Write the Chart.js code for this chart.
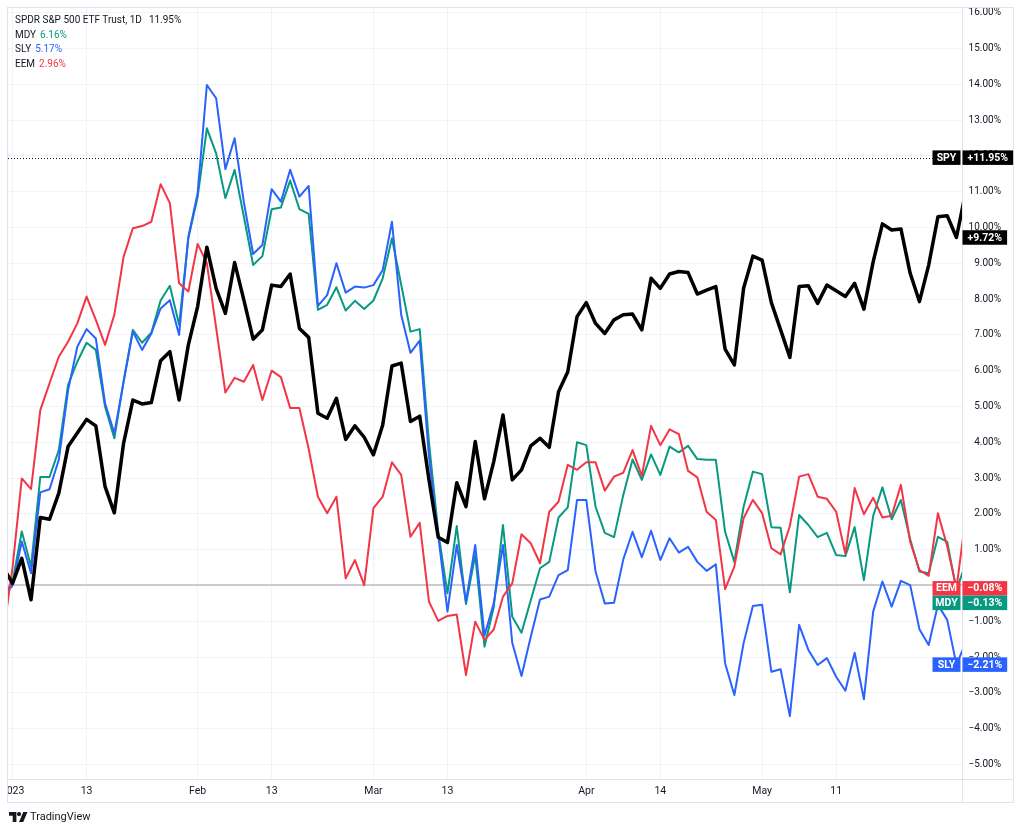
<!DOCTYPE html>
<html>
<head>
<meta charset="utf-8">
<title>SPY vs MDY, SLY, EEM</title>
<script src="https://cdn.jsdelivr.net/npm/chart.js@4.4.0/dist/chart.umd.min.js"></script>
<style>
  html, body { margin: 0; padding: 0; background: #fff; }
  #wrap { position: relative; width: 1024px; height: 833px; overflow: hidden; }
  #chart { position: absolute; left: 0; top: 0; }
  #legend { position: absolute; left: 15px; top: 13px; font: 10px Roboto, sans-serif; color: #131722; line-height: 14.6px; }
  #legend .val { margin-left: 4px; }
  #legend .first .val { margin-left: 7px; }
  #logo { position: absolute; left: 9px; top: 810px; font: 11px Roboto, sans-serif; color: #131722; display: flex; align-items: center; }
  #logo svg { margin-right: 2px; }
</style>
</head>
<body>
<div id="wrap">
  <canvas id="chart" width="1024" height="833"></canvas>
  <div id="legend"></div>
  <div id="logo">
    <svg width="19" height="10" viewBox="0 0 36 19"><path d="M14 19H7V7H0V0h14v19zM27 19h-8L27 0h8L27 19z" fill="#131722"/><circle cx="19" cy="4" r="4" fill="#131722"/></svg>
    <span>TradingView</span>
  </div>
</div>
<script>
// daily bars, first entry is the bar before Jan 3 2023 (index -1)
const firstBar = -1;
const lastBar = 102;

// % change, SPDR S&P 500 ETF Trust
const spy = [
  0.5, 0.06, 0.76, -0.40, 1.90, 1.85, 2.58, 3.88, 4.26, 4.64,
  4.46, 2.76, 2.03, 3.97, 5.18, 5.07, 5.11, 6.28, 6.53, 5.18,
  6.72, 7.79, 9.45, 8.30, 7.60, 9.02, 7.97, 6.88, 7.14, 8.39,
  8.35, 8.70, 7.18, 6.93, 4.81, 4.67, 5.23, 4.08, 4.46, 4.14,
  3.65, 4.48, 6.13, 6.21, 4.58, 4.73, 2.95, 1.35, 1.20, 2.87,
  2.20, 4.02, 2.42, 3.46, 4.76, 2.95, 3.23, 3.90, 4.11, 3.86,
  5.41, 5.97, 7.51, 7.90, 7.32, 7.04, 7.42, 7.56, 7.58, 7.14,
  8.58, 8.30, 8.70, 8.77, 8.74, 8.14, 8.25, 8.35, 6.60, 6.16,
  8.30, 9.20, 9.09, 7.90, 7.14, 6.37, 8.35, 8.37, 7.88, 8.39,
  8.23, 8.07, 8.44, 7.72, 9.04, 10.10, 9.93, 9.96, 8.72, 7.93,
  8.95, 10.30, 10.33, 9.72, 11.0
];

const mdy = [
  -0.3, 0.1, 1.51, 0.53, 3.03, 3.03, 3.78, 5.60, 6.25, 6.78,
  6.58, 4.99, 4.11, 5.70, 7.14, 6.78, 7.06, 7.96, 8.37, 7.28,
  9.70, 10.85, 12.77, 12.07, 10.82, 11.61, 10.3, 8.95, 9.20, 10.51,
  10.56, 11.31, 10.51, 10.38, 7.70, 7.84, 8.33, 7.68, 7.95, 7.72,
  7.96, 8.58, 9.70, 8.40, 7.09, 7.16, 4.0, 1.5, -0.22, 1.66,
  -0.52, 0.85, -1.71, -0.6, 1.69, -0.87, -1.32, -0.41, 0.48, 0.66,
  1.90, 2.18, 4.00, 3.92, 2.20, 1.47, 1.35, 2.53, 3.52, 2.95,
  3.66, 3.09, 3.88, 3.72, 3.90, 3.53, 3.51, 3.51, 1.50, 0.66,
  2.20, 3.18, 3.11, 1.63, 1.61, -0.19, 1.97, 1.69, 1.35, 1.47,
  0.85, 0.82, 1.63, 0.15, 1.94, 2.74, 1.85, 2.39, 1.29, 0.39,
  0.34, 1.36, 1.22, -0.13, 0.62
];

const sly = [
  -0.3, 0.0, 1.23, 0.34, 2.60, 2.69, 3.51, 5.45, 6.67, 7.16,
  6.90, 5.09, 4.25, 5.68, 7.09, 6.58, 7.04, 7.74, 7.97, 7.00,
  9.74, 10.95, 13.98, 13.61, 11.63, 12.49, 10.7, 9.26, 9.51, 11.07,
  10.72, 11.61, 10.86, 11.16, 7.81, 8.11, 9.00, 8.18, 8.35, 8.32,
  8.39, 8.81, 10.16, 7.56, 6.50, 6.84, 3.6, 1.4, -0.73, 1.13,
  -0.45, 1.13, -1.4, -0.5, 1.13, -1.60, -2.53, -1.43, -0.39, -0.31,
  0.29, 0.43, 2.39, 2.39, 0.39, -0.50, -0.48, 0.73, 1.50, 0.79,
  1.53, 0.71, 1.32, 0.92, 1.08, 0.66, 0.41, 0.59, -2.17, -3.06,
  -1.61, -0.57, -0.54, -2.41, -2.34, -3.65, -1.10, -1.80, -2.22, -2.03,
  -2.55, -2.94, -1.88, -3.18, -0.73, 0.11, -0.59, 0.13, 0.01, -1.22,
  -1.66, -0.54, -0.96, -2.21, -1.6
];

const eem = [
  -1.35, 0.5, 2.99, 2.69, 4.90, 5.65, 6.39, 6.81, 7.32, 8.07,
  7.42, 6.72, 7.56, 9.18, 9.98, 10.04, 10.16, 11.21, 10.68, 8.44,
  8.21, 9.54, 9.00, 7.20, 5.39, 5.80, 5.69, 6.16, 5.18, 6.00,
  5.82, 4.96, 4.96, 3.82, 2.48, 2.02, 2.48, 0.20, 0.71, 0.01,
  2.16, 2.48, 3.44, 3.09, 1.36, 1.75, -0.45, -0.99, -0.85, -0.81,
  -2.50, -1.01, -1.52, -1.23, -0.31, 0.06, 1.43, 1.18, 0.62, 2.06,
  2.34, 3.37, 3.23, 3.44, 3.44, 2.65, 3.04, 3.15, 3.78, 3.06,
  4.46, 3.92, 4.36, 4.23, 3.20, 3.02, 2.06, 1.83, -0.10, 0.53,
  1.88, 2.39, 2.02, 1.04, 0.87, 1.66, 3.04, 3.11, 2.48, 2.42,
  2.06, 0.88, 2.72, 1.99, 2.45, 1.90, 1.95, 2.81, 1.22, 0.43,
  0.27, 2.02, 1.10, -0.08, 1.9
];

// x axis: bar index -> label
const xTickBars = [0, 8, 20, 28, 39, 47, 62, 70, 81, 89];
const xTickLabels = ['2023', '13', 'Feb', '13', 'Mar', '13', 'Apr', '14', 'May', '11'];
const yTicks = [16, 15, 14, 13, 12, 11, 10, 9, 8, 7, 6, 5, 4, 3, 2, 1, 0, -1, -2, -3, -4, -5];

// legend
const legendNames = ['SPDR S&P 500 ETF Trust, 1D', 'MDY', 'SLY', 'EEM'];
const legendValues = ['11.95%', '6.16%', '5.17%', '2.96%'];
const spyPrice = 11.95;

const colors = { spy: '#000000', mdy: '#089981', sly: '#2962ff', eem: '#f23645' };
const FONT = 'Roboto, sans-serif';

const legendColors = ['#131722', colors.mdy, colors.sly, colors.eem];
const legendEl = document.getElementById('legend');
legendNames.forEach((n, i) => {
  const row = document.createElement('div');
  if (i === 0) row.className = 'first';
  const a = document.createElement('span');
  a.textContent = n;
  const b = document.createElement('span');
  b.className = 'val';
  b.style.color = legendColors[i];
  b.textContent = legendValues[i];
  row.appendChild(a);
  row.appendChild(b);
  legendEl.appendChild(row);
});

const toPoints = arr => arr.map((v, i) => ({ x: i + firstBar, y: v }));
const pct = v => (v < 0 ? '\u2212' : '') + Math.abs(v).toFixed(2) + '%';
const signed = v => (v < 0 ? '\u2212' : '+') + Math.abs(v).toFixed(2) + '%';

// dotted price line of the main series
const priceLine = {
  id: 'priceLine',
  beforeDatasetsDraw(chart) {
    const { ctx, chartArea } = chart;
    const y = Math.round(chart.scales.y.getPixelForValue(spyPrice)) + 0.5;
    ctx.save();
    ctx.strokeStyle = '#131722';
    ctx.lineWidth = 1;
    ctx.setLineDash([1, 2]);
    ctx.beginPath();
    ctx.moveTo(chartArea.left, y);
    ctx.lineTo(chartArea.right, y);
    ctx.stroke();
    ctx.restore();
  }
};

// pane borders, time labels are cut at the pane edge
const frame = {
  id: 'frame',
  afterDraw(chart) {
    const { ctx, chartArea } = chart;
    ctx.save();
    ctx.fillStyle = '#fff';
    ctx.fillRect(0, chartArea.bottom + 1, 7.5, 24);
    ctx.strokeStyle = '#e0e3eb';
    ctx.lineWidth = 1;
    ctx.strokeRect(7.5, 7.5, 1006, 795);
    ctx.beginPath();
    ctx.moveTo(chartArea.right + 0.5, 8);
    ctx.lineTo(chartArea.right + 0.5, 802);
    ctx.moveTo(8, chartArea.bottom + 0.5);
    ctx.lineTo(1013, chartArea.bottom + 0.5);
    ctx.stroke();
    ctx.restore();
  }
};

// last value labels on the price scale
const badges = {
  id: 'badges',
  afterDraw(chart) {
    const { ctx, chartArea } = chart;
    const ys = chart.scales.y;
    const k = lastBar - firstBar;
    const items = [
      { name: 'SPY', v: spyPrice, color: colors.spy },
      { name: '', v: spy[k], color: colors.spy },
      { name: 'EEM', v: eem[k], color: colors.eem },
      { name: 'MDY', v: mdy[k], color: colors.mdy },
      { name: 'SLY', v: sly[k], color: colors.sly }
    ];
    const h = 14.5;
    items.forEach(it => { it.y = ys.getPixelForValue(it.v); });
    items.sort((a, b) => a.y - b.y);
    for (let i = 1; i < items.length; i++) {
      if (items[i].y < items[i - 1].y + h) items[i].y = items[i - 1].y + h;
    }
    ctx.save();
    ctx.font = 'bold 10.5px ' + FONT;
    ctx.textBaseline = 'middle';
    ctx.textAlign = 'center';
    items.forEach(it => {
      const txt = signed(it.v);
      const w = ctx.measureText(txt).width + 10;
      const x0 = chartArea.right + 0.5;
      ctx.fillStyle = it.color;
      ctx.fillRect(x0, it.y - h / 2, w, h);
      ctx.fillStyle = '#fff';
      ctx.fillText(txt, x0 + w / 2, it.y + 0.5);
      if (it.name) {
        ctx.fillStyle = it.color;
        ctx.fillRect(x0 - 30, it.y - h / 2, 28, h);
        ctx.fillStyle = '#fff';
        ctx.fillText(it.name, x0 - 16, it.y + 0.5);
      }
    });
    ctx.restore();
  }
};

const ctx = document.getElementById('chart').getContext('2d');
new Chart(ctx, {
  type: 'line',
  data: {
    datasets: [
      { label: 'SPY', data: toPoints(spy), borderColor: colors.spy, borderWidth: 3.5 },
      { label: 'EEM', data: toPoints(eem), borderColor: colors.eem, borderWidth: 2 },
      { label: 'SLY', data: toPoints(sly), borderColor: colors.sly, borderWidth: 2 },
      { label: 'MDY', data: toPoints(mdy), borderColor: colors.mdy, borderWidth: 2 }
    ]
  },
  options: {
    responsive: false,
    animation: false,
    elements: { point: { radius: 0 }, line: { tension: 0, borderJoinStyle: 'round' } },
    layout: { padding: { left: 8, top: 8, right: 23, bottom: 30 } },
    plugins: { legend: { display: false }, tooltip: { enabled: false } },
    scales: {
      x: {
        type: 'linear',
        min: -0.49,
        max: 102.6,
        afterBuildTicks: s => { s.ticks = xTickBars.map(v => ({ value: v })); },
        afterFit: s => { s.height = 24; s.paddingLeft = 0; s.paddingRight = 0; },
        ticks: {
          autoSkip: false, maxRotation: 0, padding: 6,
          color: '#131722', font: { size: 10.5, family: FONT },
          callback: (v, i) => xTickLabels[i]
        },
        grid: { color: '#f0f3fa', drawTicks: false },
        border: { display: false }
      },
      y: {
        position: 'right',
        min: -5.405,
        max: 16.13,
        afterBuildTicks: s => { s.ticks = yTicks.map(v => ({ value: v })); },
        afterFit: s => { s.width = 39; s.paddingTop = 0; s.paddingBottom = 0; },
        ticks: {
          autoSkip: false, padding: 0, crossAlign: 'far',
          color: c => (c.tick && c.tick.value === 0 ? 'rgba(0,0,0,0)' : '#131722'),
          font: { size: 10, family: FONT },
          callback: v => pct(v)
        },
        grid: {
          drawTicks: false,
          color: c => (c.tick && c.tick.value === 0 ? '#c9cbd1' : '#f0f3fa'),
          lineWidth: c => (c.tick && c.tick.value === 0 ? 2 : 1)
        },
        border: { display: false }
      }
    }
  },
  plugins: [priceLine, frame, badges]
});
</script>
</body>
</html>
